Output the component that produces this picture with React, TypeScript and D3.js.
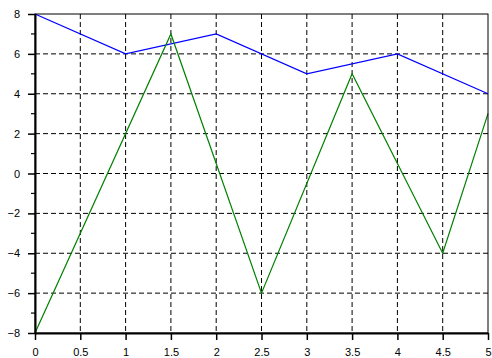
import React, { useEffect, useRef } from 'react';
import * as d3 from 'd3';

// Series values
const blueX = [0, 1, 2, 3, 4, 5];
const blueY = [8, 6, 7, 5, 6, 4];
const greenX = [0, 1.5, 2.5, 3.5, 4.5, 5];
const greenY = [-8, 7, -6, 5, -4, 3];

const xTicks = [0, 0.5, 1, 1.5, 2, 2.5, 3, 3.5, 4, 4.5, 5];
const yTicks = [-8, -6, -4, -2, 0, 2, 4, 6, 8];
const yMinor = [-7, -5, -3, -1, 1, 3, 5, 7];

const App = () => {
  const svgRef = useRef<SVGSVGElement>(null);

  useEffect(() => {
    const width = 492;
    const height = 358;
    const margin = { top: 14, right: 4, bottom: 25, left: 35 };

    const svg = d3.select(svgRef.current);
    svg.selectAll('*').remove();

    const x = d3.scaleLinear().domain([0, 5]).range([margin.left, width - margin.right]);
    const y = d3.scaleLinear().domain([-8, 8]).range([height - margin.bottom, margin.top]);

    // Dashed grid
    const grid = svg.append('g').attr('stroke', '#000').attr('stroke-dasharray', '5,3').attr('stroke-width', 1);
    grid
      .selectAll('line.v')
      .data(xTicks.slice(1, -1))
      .enter()
      .append('line')
      .attr('x1', (d) => x(d))
      .attr('x2', (d) => x(d))
      .attr('y1', y(8))
      .attr('y2', y(-8));
    grid
      .selectAll('line.h')
      .data(yTicks.slice(1, -1))
      .enter()
      .append('line')
      .attr('y1', (d) => y(d))
      .attr('y2', (d) => y(d))
      .attr('x1', x(0))
      .attr('x2', x(5));

    // Lines
    const line = d3
      .line<[number, number]>()
      .x((d) => x(d[0]))
      .y((d) => y(d[1]));

    svg
      .append('path')
      .datum(blueX.map((v, i) => [v, blueY[i]] as [number, number]))
      .attr('fill', 'none')
      .attr('stroke', '#0000ff')
      .attr('stroke-width', 1.2)
      .attr('d', line);

    svg
      .append('path')
      .datum(greenX.map((v, i) => [v, greenY[i]] as [number, number]))
      .attr('fill', 'none')
      .attr('stroke', '#008000')
      .attr('stroke-width', 1.2)
      .attr('d', line);

    // Frame
    svg
      .append('rect')
      .attr('x', x(0))
      .attr('y', y(8))
      .attr('width', x(5) - x(0))
      .attr('height', y(-8) - y(8))
      .attr('fill', 'none')
      .attr('stroke', '#000')
      .attr('stroke-width', 1);

    // Axes
    const xAxis = svg
      .append('g')
      .attr('transform', `translate(0, ${y(-8)})`)
      .call(d3.axisBottom(x).tickValues(xTicks).tickSize(7).tickSizeOuter(0).tickFormat((d) => String(d)));
    xAxis.select('.domain').attr('stroke-width', 2);
    xAxis.selectAll('line').attr('stroke-width', 1.5);
    xAxis.selectAll('text').attr('dy', '0.95em').attr('y', 12.5);

    const yAxis = svg
      .append('g')
      .attr('transform', `translate(${x(0)}, 0)`)
      .call(
        d3
          .axisLeft(y)
          .tickValues(yTicks)
          .tickSize(7)
          .tickSizeOuter(0)
          .tickFormat((d) => (Number(d) < 0 ? '\u2212' + Math.abs(Number(d)) : String(d)))
      );
    yAxis.select('.domain').attr('stroke-width', 2);
    yAxis.selectAll('line').attr('stroke-width', 1.5);
    yAxis.selectAll('text').attr('x', -15);

    yAxis
      .selectAll('line.minor')
      .data(yMinor)
      .enter()
      .append('line')
      .attr('class', 'minor')
      .attr('x1', -4)
      .attr('x2', 0)
      .attr('y1', (d) => y(d))
      .attr('y2', (d) => y(d))
      .attr('stroke', '#000')
      .attr('stroke-width', 1.2);

    svg
      .selectAll('.tick text')
      .attr('font-family', 'Liberation Sans, Arial, sans-serif')
      .attr('font-size', 11)
      .attr('fill', '#000');
  }, []);

  return (
    <svg
      ref={svgRef}
      width={492}
      height={358}
      style={{ position: 'absolute', left: 0, top: 0, background: '#fff' }}
    />
  );
};

export default App;
